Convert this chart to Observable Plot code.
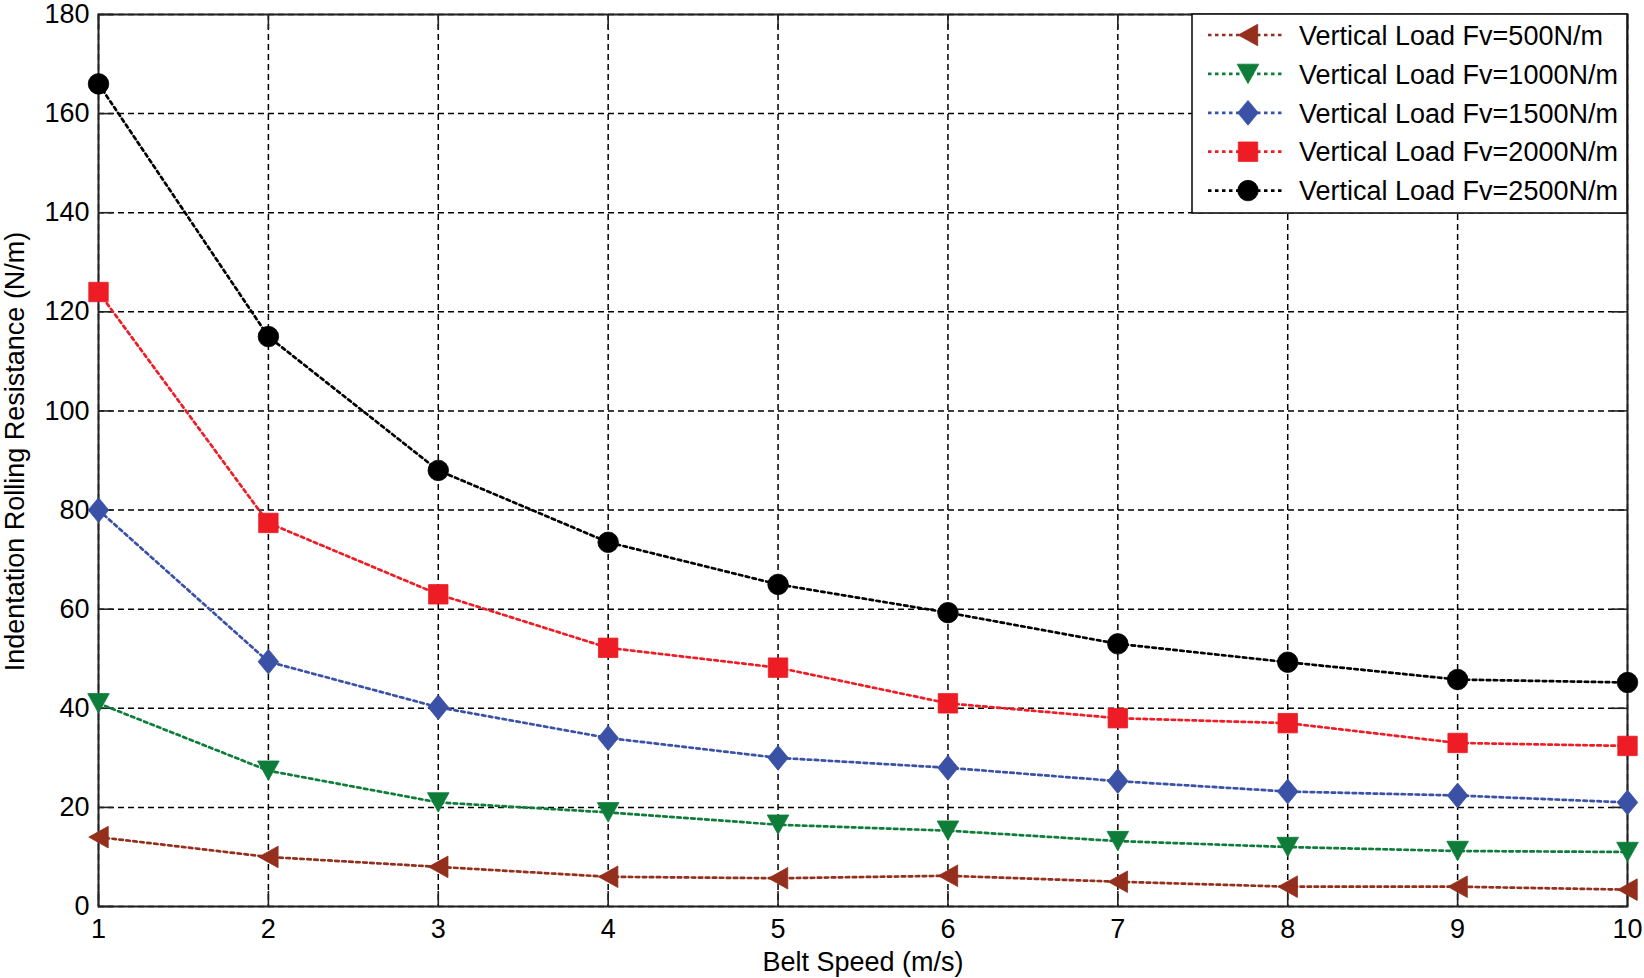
<!DOCTYPE html>
<html>
<head>
<meta charset="utf-8">
<script src="https://cdn.jsdelivr.net/npm/d3@7"></script>
<script src="https://cdn.jsdelivr.net/npm/@observablehq/plot@0.6"></script>
<style>
  html, body { margin: 0; padding: 0; background: #fff; }
  #chart { position: relative; width: 1644px; height: 978px; }
  svg { font-family: "Liberation Sans", Arial, sans-serif; }
</style>
</head>
<body>
<div id="chart"></div>
<script>
// ---- data ----
const beltSpeed = [1, 2, 3, 4, 5, 6, 7, 8, 9, 10];
const fv500  = [14, 10, 8, 6, 5.7, 6.2, 5, 4, 4, 3.4];
const fv1000 = [41, 27.4, 21, 19, 16.5, 15.3, 13.2, 12, 11.2, 11];
const fv1500 = [80, 49.4, 40.2, 34, 30, 28, 25.3, 23.2, 22.4, 21];
const fv2000 = [124, 77.4, 63, 52.2, 48.2, 41, 38, 37, 33, 32.4];
const fv2500 = [166, 115, 88, 73.5, 65, 59.3, 53, 49.3, 45.8, 45.2];
const seriesNames = [
  "Vertical Load Fv=500N/m",
  "Vertical Load Fv=1000N/m",
  "Vertical Load Fv=1500N/m",
  "Vertical Load Fv=2000N/m",
  "Vertical Load Fv=2500N/m"
];
const seriesValues = [fv500, fv1000, fv1500, fv2000, fv2500];
const seriesColors = ["#932f1c", "#0e7d3a", "#3a51a6", "#ee1c25", "#000000"];
const xTicks = [1, 2, 3, 4, 5, 6, 7, 8, 9, 10];
const yTicks = [0, 20, 40, 60, 80, 100, 120, 140, 160, 180];
const xLabel = "Belt Speed (m/s)";
const yLabel = "Indentation Rolling Resistance (N/m)";

// ---- MATLAB-like marker symbols ----
const rad = s => Math.sqrt(s / Math.PI);
const symTriLeft = {draw(c, s) { const r = rad(s), w = r, h = r * 0.9;
  c.moveTo(-h, 0); c.lineTo(h, -w); c.lineTo(h, w); c.closePath(); }};
const symTriDown = {draw(c, s) { const r = rad(s), w = r, h = r * 0.9;
  c.moveTo(-w, -h); c.lineTo(w, -h); c.lineTo(0, h); c.closePath(); }};
const symDiamond = {draw(c, s) { const r = rad(s), w = r * 0.95, h = r * 1.15;
  c.moveTo(0, -h); c.lineTo(w, 0); c.lineTo(0, h); c.lineTo(-w, 0); c.closePath(); }};
const symSquare = {draw(c, s) { const r = rad(s) * 0.9;
  c.rect(-r, -r, 2 * r, 2 * r); }};
const symCircle = {draw(c, s) { const r = rad(s) * 0.95;
  c.moveTo(r, 0); c.arc(0, 0, r, 0, 2 * Math.PI); }};
const seriesSymbols = [symTriLeft, symTriDown, symDiamond, symSquare, symCircle];

// ---- table ----
const rows = seriesNames.map((name, i) =>
  beltSpeed.map((x, j) => ({series: name, i, x, y: seriesValues[i][j]})));

const W = 1644, H = 978;
const mL = 98, mR = 17, mT = 14, mB = 72;
const innerW = W - mL - mR, innerH = H - mT - mB;
const FS = 27;
const lineDash = "3.5,3.5";
const lineW = 2.7;
const markR = 10.8;

const marks = [
  Plot.gridX(xTicks, {stroke: "#000", strokeOpacity: 1, strokeWidth: 1.5, strokeDasharray: "6,4"}),
  Plot.gridY(yTicks, {stroke: "#000", strokeOpacity: 1, strokeWidth: 1.5, strokeDasharray: "6,4"}),
  Plot.frame({stroke: "#222", strokeWidth: 2}),
  Plot.tickX(xTicks, {x: d => d, stroke: "#222", strokeWidth: 1.6, insetTop: innerH - 15}),
  Plot.tickX(xTicks, {x: d => d, stroke: "#222", strokeWidth: 1.6, insetBottom: innerH - 15}),
  Plot.tickY(yTicks, {y: d => d, stroke: "#222", strokeWidth: 1.6, insetRight: innerW - 15}),
  Plot.tickY(yTicks, {y: d => d, stroke: "#222", strokeWidth: 1.6, insetLeft: innerW - 15}),
  Plot.axisX({ticks: xTicks, tickSize: 0, tickPadding: 12, fontSize: FS, label: null, tickFormat: d => String(d), fill: "#000"}),
  Plot.axisY({ticks: yTicks, tickSize: 0, tickPadding: 9, fontSize: FS, label: null, tickFormat: d => String(d), fill: "#000"}),
  Plot.text([xLabel], {text: d => d, frameAnchor: "bottom", lineAnchor: "middle", textAnchor: "middle", dy: 56, fontSize: FS, fill: "#000"}),
  Plot.text([yLabel], {text: d => d, frameAnchor: "left", lineAnchor: "middle", textAnchor: "middle", rotate: -90, dx: -83, dy: -9, fontSize: FS, fill: "#000"})
];
rows.forEach((data, i) => {
  marks.push(Plot.line(data, {x: "x", y: "y", stroke: seriesColors[i], strokeWidth: lineW, strokeDasharray: lineDash}));
  marks.push(Plot.dot(data, {x: "x", y: "y", r: markR, symbol: seriesSymbols[i], fill: seriesColors[i], stroke: seriesColors[i], strokeWidth: 0.8}));
});

const chart = Plot.plot({
  width: W, height: H,
  marginLeft: mL, marginRight: mR, marginTop: mT, marginBottom: mB,
  style: {fontSize: FS + "px", fontFamily: '"Liberation Sans", Arial, sans-serif', color: "#000", background: "#fff"},
  x: {domain: [1, 10], axis: null},
  y: {domain: [0, 180], axis: null},
  marks
});
document.getElementById("chart").appendChild(chart);

// ---- legend (MATLAB-style box, top-right inside axes) ----
const svg = d3.select(chart);
const lgX = 1192, lgY = mT, lgW = W - mR - 1192, lgH = 199;
const lg = svg.append("g");
lg.append("rect").attr("x", lgX).attr("y", lgY).attr("width", lgW).attr("height", lgH)
  .attr("fill", "#fff").attr("stroke", "#111").attr("stroke-width", 1.6);
seriesNames.forEach((name, i) => {
  const cy = lgY + 21 + i * 38.9;
  lg.append("line").attr("x1", lgX + 16).attr("x2", lgX + 93).attr("y1", cy).attr("y2", cy)
    .attr("stroke", seriesColors[i]).attr("stroke-width", lineW).attr("stroke-dasharray", lineDash);
  lg.append("path").attr("d", d3.symbol(seriesSymbols[i], Math.PI * markR * markR)())
    .attr("transform", `translate(${lgX + 56},${cy})`)
    .attr("fill", seriesColors[i]).attr("stroke", seriesColors[i]).attr("stroke-width", 0.8);
  lg.append("text").attr("x", lgX + 107).attr("y", cy).attr("dy", "0.36em")
    .attr("text-anchor", "start")
    .attr("font-size", FS).attr("fill", "#000").text(name);
});
</script>
</body>
</html>
